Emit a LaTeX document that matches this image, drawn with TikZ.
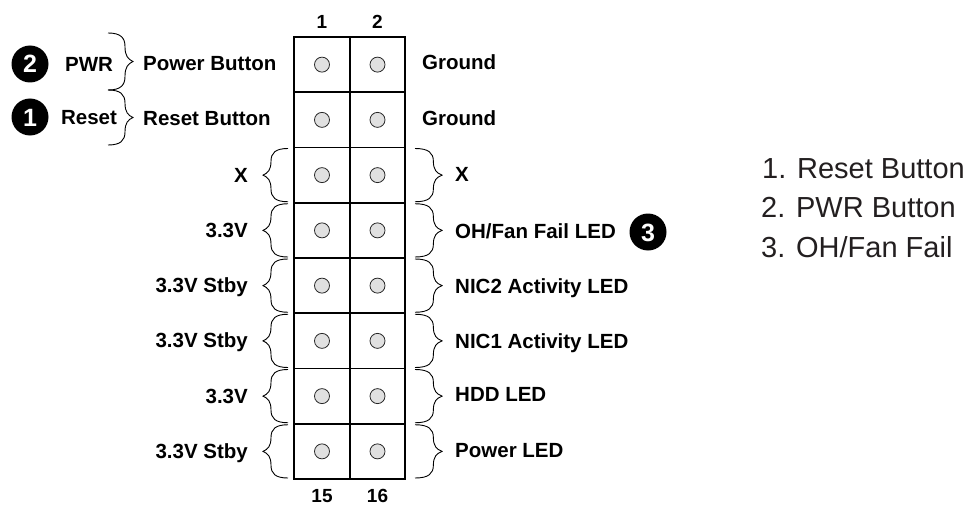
\documentclass[tikz,border=0pt]{standalone}
\usepackage{fontspec}
\setmainfont{Liberation Sans}
\definecolor{pinfill}{HTML}{E0E0E0}
\definecolor{listgray}{HTML}{231F20}
\tikzset{
  lbl/.style={font=\fontsize{20.5}{24}\selectfont\bfseries, inner sep=0pt, text height=14.8pt, text depth=0pt},
  hdr/.style={font=\fontsize{19}{22}\selectfont\bfseries, inner sep=0pt, text height=13.7pt, text depth=0pt},
  pinhole/.style={circle, draw=black!85, fill=pinfill, minimum size=15pt, inner sep=0pt, line width=0.8pt},
  badge/.style={circle, fill=black, text=white, minimum size=37pt, inner sep=0pt, text height=18pt, text depth=0pt, font=\fontsize{25}{28}\selectfont\bfseries},
  listitem/.style={font=\fontsize{29}{32}\selectfont, text=listgray, anchor=west, inner sep=0pt, text height=20.9pt, text depth=0pt},
  gridline/.style={line width=1.8pt},
  bracestyle/.style={line width=0.9pt},
}
% #1 = x of the ends, #2 = top y, #3 = bottom y, #4 = signed width (tip direction)
\newcommand\curlybrace[4]{%
  \draw[bracestyle] (#1,#2)
    .. controls ({#1+0.5*(#4)},#2) and ({#1+0.68*(#4)},{#2+0.08*(#3-#2)}) .. ({#1+0.68*(#4)},{#2+0.24*(#3-#2)})
    .. controls ({#1+0.68*(#4)},{#2+0.4*(#3-#2)}) and ({#1+0.8*(#4)},{#2+0.46*(#3-#2)}) .. ({#1+(#4)},{0.5*(#2+#3)})
    .. controls ({#1+0.8*(#4)},{#3-0.46*(#3-#2)}) and ({#1+0.68*(#4)},{#3-0.4*(#3-#2)}) .. ({#1+0.68*(#4)},{#3-0.24*(#3-#2)})
    .. controls ({#1+0.68*(#4)},{#3-0.08*(#3-#2)}) and ({#1+0.5*(#4)},#3) .. (#1,#3);%
}
\begin{document}
\begin{tikzpicture}[x=1pt,y=-1pt]
\useasboundingbox (0,0) rectangle (968,508);

% header grid
\draw[gridline] (294,37) rectangle (405,479);
\draw[gridline] (350,37) -- (350,479);
\foreach \i in {1,...,7} {
  \draw[gridline] (294,{37+55.25*\i}) -- (405,{37+55.25*\i});
}

% pins
\foreach \r in {1,...,8} {
  \pgfmathtruncatemacro\odd{2*\r-1}
  \pgfmathtruncatemacro\even{2*\r}
  \node[pinhole] (p\odd) at (322,{37+55.25*(\r-0.5)}) {};
  \node[pinhole] (p\even) at (377.5,{37+55.25*(\r-0.5)}) {};
}

% pin numbers
\node[hdr] (n1) at (322,22) {1};
\node[hdr] (n2) at (377.5,22) {2};
\node[hdr] (n15) at (322,496) {15};
\node[hdr] (n16) at (377.5,496) {16};

% top-left braces and labels
\curlybrace{108}{33}{90}{25}
\curlybrace{108}{90}{145}{25}
\node[badge] (b2) at (30,64) {2};
\node[badge] (b1) at (30,117) {1};
\node[lbl] (pwr) at (89,64) {PWR};
\node[lbl] (rst) at (89,117) {Reset};
\node[lbl, anchor=west] (pb) at (143,63) {Power Button};
\node[lbl, anchor=west] (rb) at (143,118) {Reset Button};
\node[lbl, anchor=west] (g1) at (422,62) {Ground};
\node[lbl, anchor=west] (g2) at (422,118) {Ground};

% left and right braces for rows 3-8
\foreach \r in {3,...,8} {
  \pgfmathsetmacro\yt{37+55.25*(\r-1)+1}
  \pgfmathsetmacro\yb{37+55.25*\r-1}
  \curlybrace{288}{\yt}{\yb}{-25}
  \curlybrace{415}{\yt}{\yb}{27}
}

% left labels
\node[lbl, anchor=east] (l3) at (248,175) {X};
\node[lbl, anchor=east] (l4) at (248,230) {3.3V};
\node[lbl, anchor=east] (l5) at (248,285) {3.3V Stby};
\node[lbl, anchor=east] (l6) at (248,340) {3.3V Stby};
\node[lbl, anchor=east] (l7) at (248,396) {3.3V};
\node[lbl, anchor=east] (l8) at (248,451) {3.3V Stby};

% right labels
\node[lbl, anchor=west] (r3) at (455,174) {X};
\node[lbl, anchor=west] (r4) at (455,231) {OH/Fan Fail LED};
\node[lbl, anchor=west] (r5) at (455,286) {NIC2 Activity LED};
\node[lbl, anchor=west] (r6) at (455,341) {NIC1 Activity LED};
\node[lbl, anchor=west] (r7) at (455,394) {HDD LED};
\node[lbl, anchor=west] (r8) at (455,450) {Power LED};
\node[badge] (b3) at (648,232) {3};

% legend
\node[listitem] (li1) at (762,168) {1. Reset Button};
\node[listitem] (li2) at (761,207) {2. PWR Button};
\node[listitem] (li3) at (761,247) {3. OH/Fan Fail};
\end{tikzpicture}
\end{document}
